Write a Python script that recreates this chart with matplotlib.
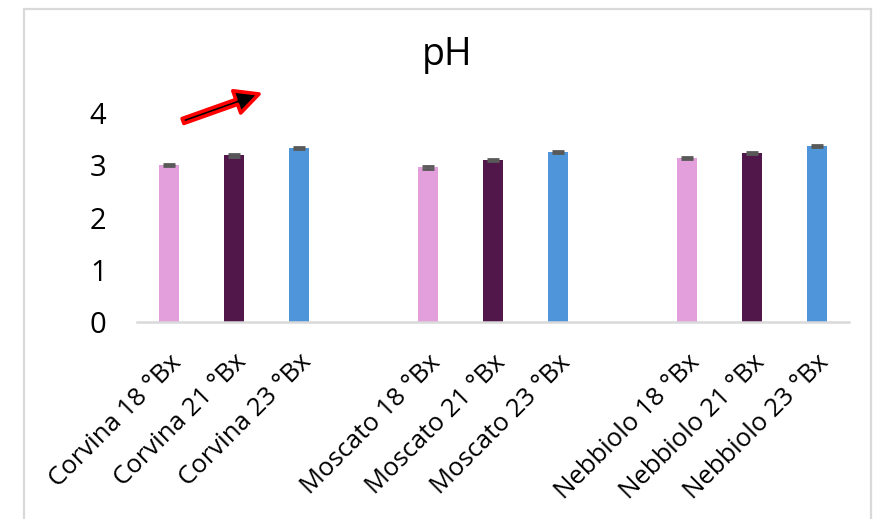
import matplotlib
matplotlib.use("Agg")
import matplotlib.pyplot as plt
from matplotlib.patches import Rectangle

plt.rcParams['font.family'] = ['Open Sans', 'DejaVu Sans']

categories = ["Corvina 18 °Bx", "Corvina 21 °Bx", "Corvina 23 °Bx", "",
              "Moscato 18 °Bx", "Moscato 21 °Bx", "Moscato 23 °Bx", "",
              "Nebbiolo 18 °Bx", "Nebbiolo 21 °Bx", "Nebbiolo 23 °Bx"]
values = [3.01, 3.19, 3.34, None, 2.96, 3.11, 3.25, None, 3.14, 3.23, 3.38]
errors = [0.02, 0.02, 0.02, None, 0.02, 0.02, 0.02, None, 0.02, 0.02, 0.02]
colors = ["#e29fdb", "#52174a", "#4f95d9", None,
          "#e29fdb", "#52174a", "#4f95d9", None,
          "#e29fdb", "#52174a", "#4f95d9"]
yticks = [0, 1, 2, 3, 4]

W, H = 879, 519
fig = plt.figure(figsize=(W / 100, H / 100), dpi=100)

# outer frame
fig.patches.append(Rectangle((24 / W, -0.05), (871 - 24) / W, 1.05 - 9 / H,
                             transform=fig.transFigure, fill=False,
                             edgecolor="#d9d9d9", linewidth=1.6))

ax_bottom = 1 - 322 / H
ymax = 4.5
unit = 52.2
ax_top = 1 - (322 - ymax * unit) / H
ax = fig.add_axes([137 / W, ax_bottom, (849 - 137) / W, ax_top - ax_bottom])

xs = [i for i, v in enumerate(values) if v is not None]
vals = [values[i] for i in xs]
errs = [errors[i] for i in xs]
cols = [colors[i] for i in xs]
ax.bar(xs, vals, width=0.31, color=cols, yerr=errs,
       error_kw=dict(ecolor="#595959", capsize=4.5, elinewidth=1.0, capthick=2.0))

ax.set_xlim(-0.5, len(categories) - 0.5)
ax.set_ylim(0, ymax)
ax.set_yticks(yticks)
ax.set_yticklabels([str(t) for t in yticks], fontsize=21)
ax.set_xticks(range(len(categories)))
ax.set_xticklabels(categories, rotation=45, ha='right', va='top',
                   rotation_mode='anchor', fontsize=18.5)
ax.tick_params(axis='both', length=0)
ax.tick_params(axis='y', pad=22)
ax.tick_params(axis='x', pad=20)
for s in ['top', 'right', 'left']:
    ax.spines[s].set_visible(False)
ax.spines['bottom'].set_color('#d9d9d9')
ax.spines['bottom'].set_linewidth(1.8)

fig.text(447 / W, 1 - 55 / H, "pH", ha='center', va='center', fontsize=27)

ax.annotate("", xy=(259 / W, 1 - 94 / H), xytext=(183 / W, 1 - 121 / H),
            xycoords='figure fraction', textcoords='figure fraction',
            arrowprops=dict(arrowstyle="simple,head_width=1.0,head_length=1.0,tail_width=0.22",
                            fc='black', ec='red', lw=2.6, mutation_scale=17,
                            shrinkA=0, shrinkB=0))

fig.savefig("out.png", dpi=100)
